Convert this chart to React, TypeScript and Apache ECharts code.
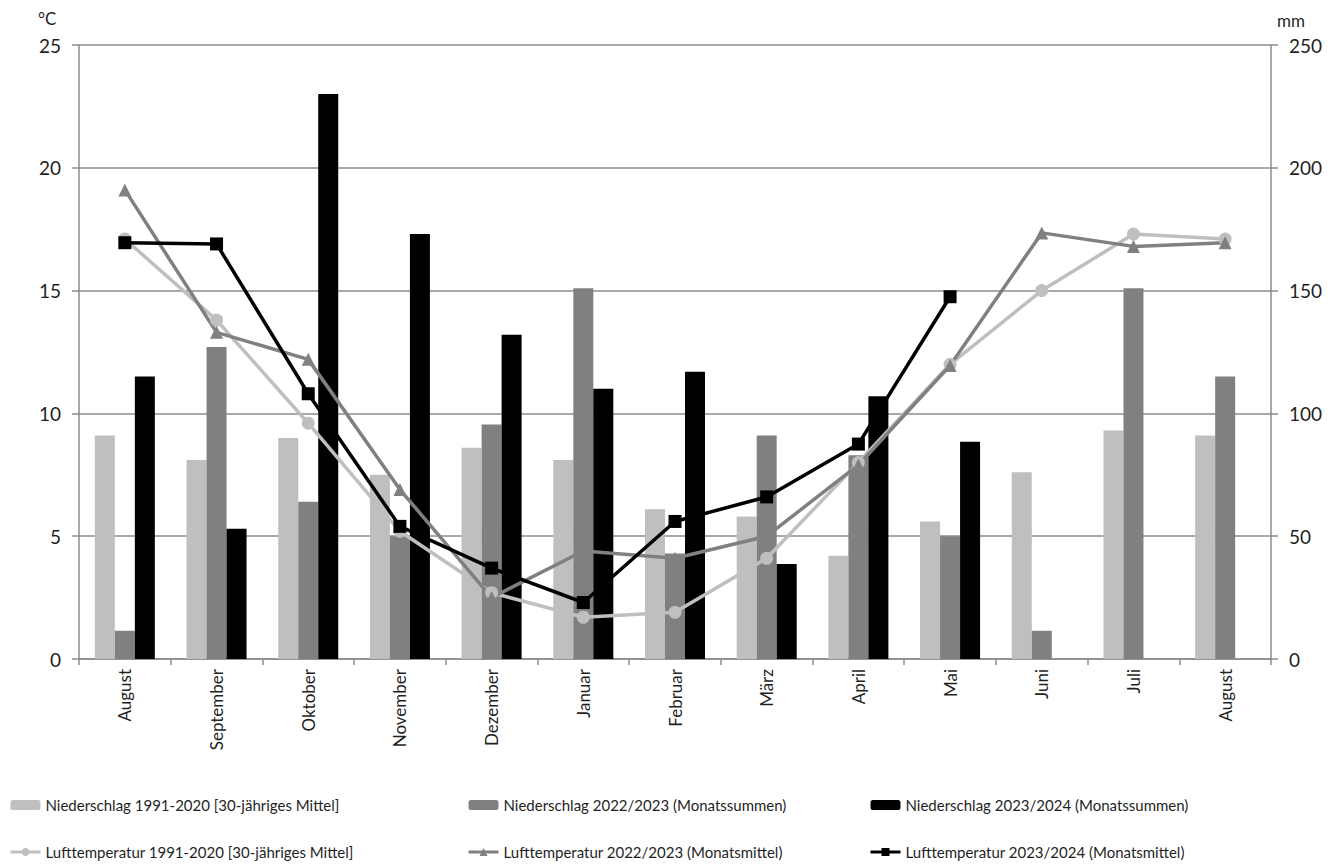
import React, { useEffect, useRef } from "react";
import * as echarts from "echarts";

const months = ["August", "September", "Oktober", "November", "Dezember", "Januar", "Februar", "März", "April", "Mai", "Juni", "Juli", "August"];

const precipMean = [91, 81, 90, 75, 86, 81, 61, 58, 42, 56, 76, 93, 91];
const precip2223 = [11.5, 127, 64, 50, 95.5, 151, 43, 91, 83, 50, 11.5, 151, 115];
const precip2324 = [115, 53, 230, 173, 132, 110, 117, 38.7, 107, 88.5, null, null, null];

const tempMean = [17.1, 13.8, 9.6, 5.2, 2.7, 1.7, 1.9, 4.1, 8.0, 12.0, 15.0, 17.3, 17.1];
const temp2223 = [19.1, 13.3, 12.2, 6.9, 2.5, 4.4, 4.1, 5.0, 7.9, 11.95, 17.35, 16.8, 16.95];
const temp2324 = [16.95, 16.9, 10.8, 5.4, 3.7, 2.3, 5.6, 6.6, 8.75, 14.75, null, null, null];

const tempTicks = [0, 5, 10, 15, 20, 25];
const precipTicks = [0, 50, 100, 150, 200, 250];

const names = {
  pm: "Niederschlag 1991-2020 [30-jähriges Mittel]",
  p22: "Niederschlag 2022/2023 (Monatssummen)",
  p23: "Niederschlag 2023/2024 (Monatssummen)",
  tm: "Lufttemperatur 1991-2020 [30-jähriges Mittel]",
  t22: "Lufttemperatur 2022/2023 (Monatsmittel)",
  t23: "Lufttemperatur 2023/2024 (Monatsmittel)",
};

const FONT = "Lato";
const TXT = "#1f1f1f";
const LIGHT = "#bfbfbf";
const MID = "#808080";
const DARK = "#000000";

export default function App() {
  const ref = useRef<HTMLDivElement>(null);
  useEffect(() => {
    if (!ref.current) return;
    const chart = echarts.init(ref.current, undefined, { renderer: "svg" });
    const legendBase = {
      orient: "vertical" as const,
      top: 795,
      itemWidth: 30,
      itemHeight: 10,
      itemGap: 27,
      padding: 0,
      lineStyle: { width: 3 },
      textStyle: { fontFamily: FONT, fontSize: 15, color: TXT, lineHeight: 20 },
    };
    chart.setOption({
      animation: false,
      backgroundColor: "#ffffff",
      textStyle: { fontFamily: FONT },
      grid: { left: 79, right: 59, top: 45, bottom: 208, containLabel: false },
      legend: [
        { ...legendBase, left: 9, data: [names.pm, names.tm] },
        { ...legendBase, left: 467, data: [names.p22, names.t22] },
        { ...legendBase, left: 869, data: [names.p23, names.t23] },
      ],
      graphic: [
        { type: "text", left: 38, top: 10, style: { text: "°C", fontFamily: FONT, fontSize: 17, fill: TXT } },
        { type: "text", left: 1277, top: 12, style: { text: "mm", fontFamily: FONT, fontSize: 17, fill: TXT } },
      ],
      xAxis: {
        type: "category",
        data: months,
        boundaryGap: true,
        axisLine: { lineStyle: { color: "#8c8c8c", width: 1.5 } },
        axisTick: { show: true, length: 6, lineStyle: { color: "#8c8c8c", width: 1.5 } },
        axisLabel: { rotate: 90, fontFamily: FONT, fontSize: 17, color: TXT, margin: 10 },
      },
      yAxis: [
        {
          type: "value",
          min: tempTicks[0],
          max: tempTicks[tempTicks.length - 1],
          interval: 5,
          axisLine: { show: true, lineStyle: { color: "#8c8c8c", width: 1.5 } },
          axisTick: { show: true, length: 7, lineStyle: { color: "#8c8c8c", width: 1.5 } },
          splitLine: { show: true, lineStyle: { color: "#8c8c8c", width: 1.5 } },
          axisLabel: { fontFamily: FONT, fontSize: 19, color: TXT, margin: 18 },
        },
        {
          type: "value",
          min: precipTicks[0],
          max: precipTicks[precipTicks.length - 1],
          interval: 50,
          position: "right",
          axisLine: { show: true, lineStyle: { color: "#8c8c8c", width: 1.5 } },
          axisTick: { show: true, length: 7, lineStyle: { color: "#8c8c8c", width: 1.5 } },
          splitLine: { show: false },
          axisLabel: { fontFamily: FONT, fontSize: 19, color: TXT, margin: 18 },
        },
      ],
      series: [
        { name: names.pm, type: "bar", yAxisIndex: 1, data: precipMean, barWidth: 20, barGap: "0%", itemStyle: { color: LIGHT } },
        { name: names.p22, type: "bar", yAxisIndex: 1, data: precip2223, barWidth: 20, barGap: "0%", itemStyle: { color: MID } },
        { name: names.p23, type: "bar", yAxisIndex: 1, data: precip2324, barWidth: 20, barGap: "0%", itemStyle: { color: DARK } },
        {
          name: names.tm, type: "line", yAxisIndex: 0, data: tempMean,
          symbol: "circle", symbolSize: 13,
          lineStyle: { color: LIGHT, width: 3.5 }, itemStyle: { color: LIGHT },
        },
        {
          name: names.t22, type: "line", yAxisIndex: 0, data: temp2223,
          symbol: "triangle", symbolSize: 13,
          lineStyle: { color: MID, width: 3.5 }, itemStyle: { color: MID },
        },
        {
          name: names.t23, type: "line", yAxisIndex: 0, data: temp2324,
          symbol: "rect", symbolSize: 13,
          lineStyle: { color: DARK, width: 3.5 }, itemStyle: { color: DARK },
        },
      ],
    });
    return () => chart.dispose();
  }, []);
  return <div ref={ref} style={{ position: "fixed", left: 0, top: 0, width: 1330, height: 867 }} />;
}
